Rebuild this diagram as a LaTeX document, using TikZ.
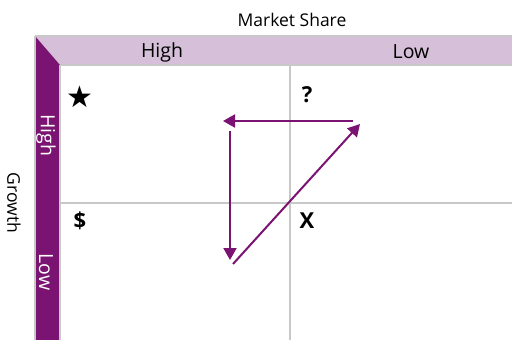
\documentclass[tikz,border=0pt]{standalone}
\usepackage{fontspec}
\setmainfont{Open Sans}
\newfontfamily\symfont{DejaVu Sans}
\usetikzlibrary{arrows.meta}
\definecolor{darkp}{HTML}{7A1372}
\definecolor{lightp}{HTML}{D6BFD8}
\definecolor{gridc}{HTML}{C8C8C8}
\tikzset{
  gridline/.style={draw=gridc, line width=1.2pt},
  flow/.style={draw=darkp, line width=2pt, -{Triangle[length=12pt,width=13pt]}},
  lbl/.style={inner sep=0pt, font=\fontsize{17.5}{20}\selectfont},
  hdr/.style={inner sep=0pt, font=\fontsize{19.5}{22}\selectfont},
  sym/.style={inner sep=0pt, font=\fontsize{22}{24}\selectfont\bfseries},
}
\begin{document}
\begin{tikzpicture}[x=1pt,y=-1pt]
\useasboundingbox (0,0) rectangle (512,340);
\fill[white] (0,0) rectangle (512,340);
% header bands
\fill[lightp] (35,36) -- (512,36) -- (512,65) -- (60,65) -- cycle;
\fill[darkp] (35,36) -- (60,65) -- (60,340) -- (35,340) -- cycle;
\draw[gridline] (35,36) -- (512,36);
\draw[gridline] (60,65) -- (512,65);
\draw[gridline] (35,36) -- (35,340);
\draw[gridline] (60,65) -- (60,340);
% grid
\draw[gridline] (290,65) -- (290,340);
\draw[gridline] (60,203) -- (512,203);
% labels
\node[lbl] (ms) at (292,20) {Market Share};
\node[hdr] (hh) at (162,52) {High};
\node[hdr] (hl) at (411,52) {Low};
\node[lbl, rotate=-90] (gr) at (14,203) {Growth};
\node[hdr, rotate=-90, text=white] (vh) at (46,135) {High};
\node[hdr, rotate=-90, text=white] (vl) at (46,272) {Low};
% symbols
\node[inner sep=0pt, font=\symfont\fontsize{30}{32}\selectfont] (star) at (80,97) {★};
\node[sym] (q) at (307,95) {?};
\node[sym] (dol) at (80,221) {\$};
\node[sym] (x) at (307,221) {X};
% arrows
\coordinate (a1s) at (353,121);
\coordinate (a1e) at (223,121);
\coordinate (a2s) at (230,131);
\coordinate (a2e) at (230,260);
\coordinate (a3s) at (233,264);
\coordinate (a3e) at (360,124);
\draw[flow] (a1s) -- (a1e);
\draw[flow] (a2s) -- (a2e);
\draw[flow] (a3s) -- (a3e);
\end{tikzpicture}
\end{document}
